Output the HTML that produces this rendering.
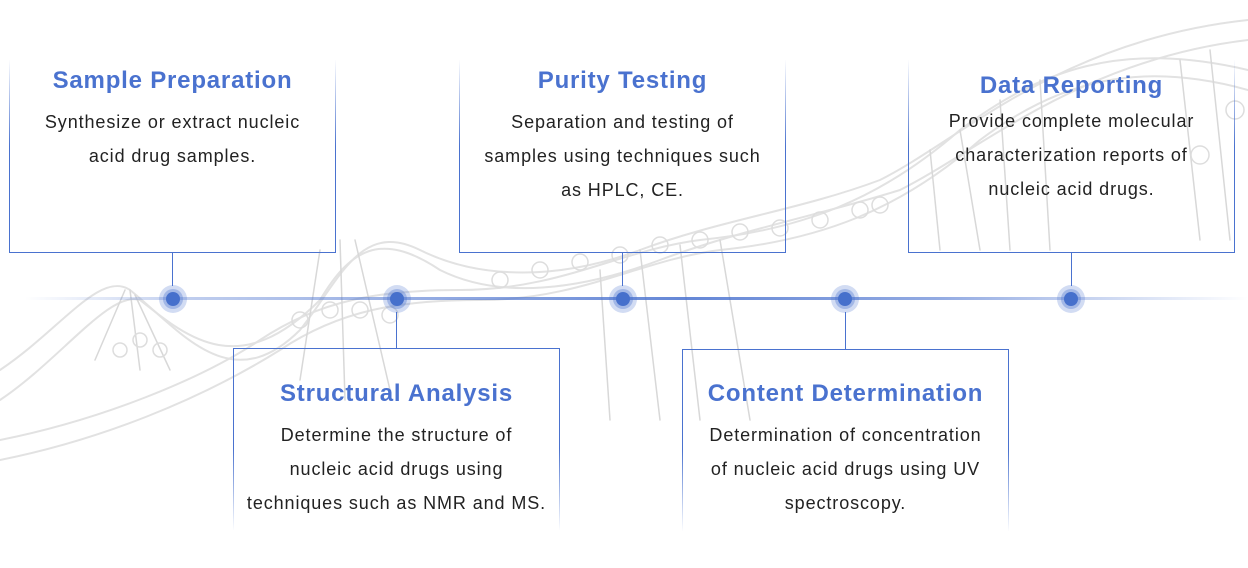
<!DOCTYPE html>
<html><head><meta charset="utf-8"><style>
*{margin:0;padding:0;box-sizing:border-box}
body{width:1248px;height:568px;background:#fff;position:relative;overflow:hidden;font-family:"Liberation Sans","DejaVu Sans",sans-serif}
.bg{position:absolute;left:0;top:0}
.box{position:absolute;width:327px;text-align:center}
.top{border-left:1px solid #4a72cf;border-right:1px solid #4a72cf;border-bottom:1px solid #4a72cf;
 border-image:linear-gradient(to bottom,rgba(74,114,207,0),#4a72cf 45%) 1}
.bot{border-left:1px solid #4a72cf;border-right:1px solid #4a72cf;border-top:1px solid #4a72cf;
 border-image:linear-gradient(to top,rgba(74,114,207,0),#4a72cf 45%) 1}
h3{color:#4a72cf;font-size:24px;font-weight:bold;line-height:30px;letter-spacing:0.8px;white-space:nowrap}
p{color:#222;font-size:18px;line-height:34px;margin-top:9px;letter-spacing:0.9px;white-space:nowrap}
.line{position:absolute;left:0;top:297px;width:1248px;height:3px;
 background:linear-gradient(to right,rgba(74,114,207,0) 2%,rgba(74,114,207,.35) 15%,rgba(74,114,207,.6) 35%,rgba(74,114,207,.85) 55%,rgba(74,114,207,.6) 75%,rgba(74,114,207,.2) 92%,rgba(74,114,207,0))}
.dot{position:absolute;width:28px;height:28px;border-radius:50%;background:rgba(74,114,207,.25);top:285px}
.dot::before{content:"";position:absolute;left:4px;top:4px;width:20px;height:20px;border-radius:50%;background:rgba(74,114,207,.35)}
.dot::after{content:"";position:absolute;left:7px;top:7px;width:14px;height:14px;border-radius:50%;background:#4670cc}
.con{position:absolute;width:1px;background:#4a72cf}
</style></head><body>
<svg class="bg" width="1248" height="568" fill="none" stroke-linecap="round">
<g stroke="#e2e2e2" stroke-width="2">
<path d="M0 370 C60 330 100 270 130 290 C180 330 230 400 300 330 C340 280 360 220 420 250 C480 280 560 280 640 250 C720 220 800 210 880 180 C960 140 1060 40 1248 20"/>
<path d="M0 400 C60 360 110 290 140 300 C190 340 240 380 320 300 C350 250 380 230 440 270 C500 300 580 290 660 260 C740 230 820 215 900 190 C980 150 1080 60 1248 40"/>
<path d="M0 440 C100 420 200 380 260 340 C320 300 380 290 460 290 C560 290 620 250 700 240 C800 230 880 200 960 130 C1040 70 1120 40 1248 70"/>
<path d="M0 460 C100 440 200 400 280 350 C340 310 400 300 480 300 C580 300 640 260 720 250 C820 240 900 210 980 140 C1060 80 1140 60 1248 90"/>
</g>
<g stroke="#d8d8d8" stroke-width="1.5">
<path d="M125 290 L95 360 M130 290 L140 370 M135 295 L170 370 M320 250 L300 380 M340 240 L345 400 M355 240 L390 390 M600 270 L610 420 M640 250 L660 420 M680 245 L700 420 M720 240 L750 420 M930 150 L940 250 M960 130 L980 250 M1000 100 L1010 250 M1040 80 L1050 250 M1180 60 L1200 240 M1210 50 L1230 240"/>
</g>
<g stroke="#dddddd" stroke-width="1.5">
<circle cx="300" cy="320" r="8"/><circle cx="330" cy="310" r="8"/><circle cx="360" cy="310" r="8"/><circle cx="390" cy="315" r="8"/>
<circle cx="500" cy="280" r="8"/><circle cx="540" cy="270" r="8"/><circle cx="580" cy="262" r="8"/><circle cx="620" cy="255" r="8"/><circle cx="660" cy="245" r="8"/><circle cx="700" cy="240" r="8"/><circle cx="740" cy="232" r="8"/><circle cx="780" cy="228" r="8"/>
<circle cx="820" cy="220" r="8"/><circle cx="860" cy="210" r="8"/><circle cx="880" cy="205" r="8"/>
<circle cx="140" cy="340" r="7"/><circle cx="160" cy="350" r="7"/><circle cx="120" cy="350" r="7"/>
<circle cx="1200" cy="155" r="9"/><circle cx="1235" cy="110" r="9"/>
</g>
</svg>
<div class="line"></div>

<div class="box top" style="left:9px;top:60px;height:193px"><h3 style="margin-top:6px">Sample Preparation</h3><p>Synthesize or extract nucleic<br>acid drug samples.</p></div>
<div class="box top" style="left:459px;top:60px;height:193px"><h3 style="margin-top:6px">Purity Testing</h3><p>Separation and testing of<br>samples using techniques such<br>as HPLC, CE.</p></div>
<div class="box top" style="left:908px;top:60px;height:193px"><h3 style="margin-top:11px">Data Reporting</h3><p style="margin-top:3px">Provide complete molecular<br>characterization reports of<br>nucleic acid drugs.</p></div>
<div class="box bot" style="left:233px;top:348px;height:182px"><h3 style="margin-top:30px">Structural Analysis</h3><p>Determine the structure of<br>nucleic acid drugs using<br>techniques such as NMR and MS.</p></div>
<div class="box bot" style="left:682px;top:349px;height:182px"><h3 style="margin-top:29px">Content Determination</h3><p>Determination of concentration<br>of nucleic acid drugs using UV<br>spectroscopy.</p></div>

<div class="con" style="left:172px;top:253px;height:33px"></div>
<div class="con" style="left:622px;top:253px;height:33px"></div>
<div class="con" style="left:1071px;top:253px;height:33px"></div>
<div class="con" style="left:396px;top:312px;height:36px"></div>
<div class="con" style="left:845px;top:312px;height:37px"></div>

<div class="dot" style="left:159px"></div>
<div class="dot" style="left:383px"></div>
<div class="dot" style="left:609px"></div>
<div class="dot" style="left:831px"></div>
<div class="dot" style="left:1057px"></div>
</body></html>
